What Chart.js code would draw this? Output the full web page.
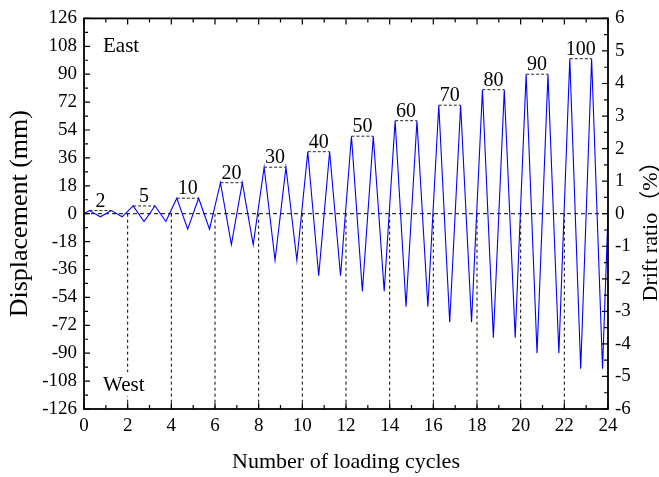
<!DOCTYPE html>
<html>
<head>
<meta charset="utf-8">
<script src="https://cdn.jsdelivr.net/npm/chart.js@4.4.0/dist/chart.umd.min.js"></script>
<style>
  html, body { margin: 0; padding: 0; background: #fff; }
</style>
</head>
<body>
<canvas id="graficoCarga" width="659" height="477"></canvas>
<script>
// Historia de carga (vertices de la curva)
const ciclos = [0,
  0.25, 0.75, 1.25, 1.75,   2.25, 2.75, 3.25, 3.75,   4.25, 4.75, 5.25, 5.75,
  6.25, 6.75, 7.25, 7.75,   8.25, 8.75, 9.25, 9.75,   10.25, 10.75, 11.25, 11.75,
  12.25, 12.75, 13.25, 13.75, 14.25, 14.75, 15.25, 15.75, 16.25, 16.75, 17.25, 17.75,
  18.25, 18.75, 19.25, 19.75, 20.25, 20.75, 21.25, 21.75, 22.25, 22.75, 23.25, 23.75,
  24];
const desplazamiento = [0,
  2, -2, 2, -2,       5, -5, 5, -5,       10, -10, 10, -10,
  20, -20, 20, -20,   30, -30, 30, -30,   40, -40, 40, -40,
  50, -50, 50, -50,   60, -60, 60, -60,   70, -70, 70, -70,
  80, -80, 80, -80,   90, -90, 90, -90,   100, -100, 100, -100,
  0];

// Niveles de amplitud (mm) y tramo donde se marca cada uno
const niveles = [2, 5, 10, 20, 30, 40, 50, 60, 70, 80, 90, 100];
const inicioPico = [0.25, 2.25, 4.25, 6.25, 8.25, 10.25, 12.25, 14.25, 16.25, 18.25, 20.25, 22.25];
const finPico = [1.25, 3.25, 5.25, 7.25, 9.25, 11.25, 13.25, 15.25, 17.25, 19.25, 21.25, 23.25];
const separadores = [2, 4, 6, 8, 10, 12, 14, 16, 18, 20, 22];

// Ticks
const ticksCiclos = [0, 2, 4, 6, 8, 10, 12, 14, 16, 18, 20, 22, 24];
const ticksMm = [-126, -108, -90, -72, -54, -36, -18, 0, 18, 36, 54, 72, 90, 108, 126];
const ticksDeriva = [-6, -5, -4, -3, -2, -1, 0, 1, 2, 3, 4, 5, 6];

const fuente = "'Liberation Serif', 'Times New Roman', serif";

const puntosCurva = ciclos.map((c, i) => ({x: c, y: desplazamiento[i]}));

const puntosPicos = [];
niveles.forEach((n, i) => {
  puntosPicos.push({x: inicioPico[i], y: n}, {x: finPico[i], y: n}, {x: finPico[i], y: null});
});

const puntosSeparadores = [];
separadores.forEach(s => {
  puntosSeparadores.push({x: s, y: 0}, {x: s, y: ticksMm[0]}, {x: s, y: null});
});

// Marco, ticks hacia adentro y textos
const marcoEjes = {
  id: 'marcoEjes',
  afterDatasetsDraw(chart) {
    const {ctx, scales: {x, y}} = chart;
    ctx.save();
    ctx.fillStyle = '#000';
    ctx.font = '20px ' + fuente;
    ctx.textAlign = 'center';
    ctx.textBaseline = 'alphabetic';
    niveles.forEach((n, i) => {
      const cx = x.getPixelForValue((inicioPico[i] + finPico[i]) / 2);
      ctx.fillText(String(n), cx, y.getPixelForValue(n) - 4);
    });

    ctx.textAlign = 'left';
    ctx.font = '21px ' + fuente;
    ctx.fillText('East', 103, 52);
    const w = ctx.measureText('West').width;
    ctx.fillStyle = '#fff';
    ctx.fillRect(101, 372, w + 4, 24);
    ctx.fillStyle = '#000';
    ctx.fillText('West', 103, 391);
    ctx.restore();
  },
  afterDraw(chart) {
    const {ctx, chartArea: a, scales: {x, y, y2}} = chart;
    ctx.save();
    ctx.strokeStyle = '#000';
    ctx.lineWidth = 1.2;
    ctx.beginPath();
    const marcas = (ticks, fn) => {
      ticks.forEach((v, i) => {
        fn(v, 6);
        if (i < ticks.length - 1) fn((v + ticks[i + 1]) / 2, 4);
      });
    };
    marcas(ticksCiclos, (v, l) => {
      const px = x.getPixelForValue(v);
      ctx.moveTo(px, a.bottom); ctx.lineTo(px, a.bottom - l);
      ctx.moveTo(px, a.top); ctx.lineTo(px, a.top + l);
    });
    marcas(ticksMm, (v, l) => {
      const py = y.getPixelForValue(v);
      ctx.moveTo(a.left, py); ctx.lineTo(a.left + l, py);
    });
    marcas(ticksDeriva, (v, l) => {
      const py = y2.getPixelForValue(v);
      ctx.moveTo(a.right, py); ctx.lineTo(a.right - l, py);
    });
    ctx.stroke();
    ctx.lineWidth = 1.8;
    ctx.strokeRect(a.left, a.top, a.right - a.left, a.bottom - a.top);

    // titulo eje derecho (leido de abajo hacia arriba)
    ctx.translate(651, 226);
    ctx.rotate(-Math.PI / 2);
    ctx.fillStyle = '#000';
    ctx.font = "22px 'Liberation Serif', 'Noto Sans CJK SC', serif";
    ctx.textAlign = 'center';
    ctx.textBaseline = 'middle';
    ctx.fillText('Drift ratio（%）', 0, 0);
    ctx.restore();
  }
};

const ctxCarga = document.getElementById('graficoCarga').getContext('2d');

new Chart(ctxCarga, {
  type: 'scatter',
  data: {
    datasets: [
      {
        label: 'Desplazamiento',
        data: puntosCurva,
        showLine: true,
        borderColor: '#0000ff',
        borderWidth: 1.1,
        pointRadius: 0,
        order: 0
      },
      {
        label: 'Picos',
        data: puntosPicos,
        showLine: true,
        borderColor: '#222',
        borderWidth: 1,
        borderDash: [3, 2],
        pointRadius: 0,
        order: 1
      },
      {
        label: 'Separadores',
        data: puntosSeparadores,
        showLine: true,
        borderColor: '#000',
        borderWidth: 1,
        borderDash: [3, 3],
        pointRadius: 0,
        order: 2
      },
      {
        label: 'Cero',
        data: [{x: ticksCiclos[0], y: 0}, {x: ticksCiclos[ticksCiclos.length - 1], y: 0}],
        showLine: true,
        borderColor: '#000',
        borderWidth: 1,
        borderDash: [4, 3],
        pointRadius: 0,
        order: 3
      }
    ]
  },
  options: {
    responsive: false,
    animation: false,
    layout: { padding: { top: 18, left: 0, right: 0, bottom: 0 } },
    plugins: {
      legend: { display: false },
      tooltip: { enabled: false }
    },
    scales: {
      x: {
        type: 'linear',
        min: 0,
        max: 24,
        afterBuildTicks: s => { s.ticks = ticksCiclos.map(v => ({value: v})); },
        afterFit: s => { s.height = 68; },
        grid: { display: false, drawTicks: false },
        border: { display: false },
        ticks: { color: '#000', font: { family: fuente, size: 19 }, padding: 6 },
        title: {
          display: true,
          text: 'Number of loading cycles',
          color: '#000',
          font: { family: fuente, size: 22, lineHeight: 1.2 },
          padding: { top: 0, bottom: 2 }
        }
      },
      y: {
        type: 'linear',
        position: 'left',
        min: -126,
        max: 126,
        afterBuildTicks: s => { s.ticks = ticksMm.map(v => ({value: v})); },
        afterFit: s => { s.width = 84; },
        grid: { display: false, drawTicks: false },
        border: { display: false },
        ticks: { color: '#000', font: { family: fuente, size: 19 }, padding: 7 },
        title: {
          display: true,
          text: 'Displacement (mm)',
          color: '#000',
          font: { family: fuente, size: 26, lineHeight: 1.2 },
          padding: { top: 5, bottom: 0 }
        }
      },
      y2: {
        type: 'linear',
        position: 'right',
        min: -6,
        max: 6,
        afterBuildTicks: s => { s.ticks = ticksDeriva.map(v => ({value: v})); },
        afterFit: s => { s.width = 51; },
        grid: { display: false, drawTicks: false },
        border: { display: false },
        ticks: { color: '#000', font: { family: fuente, size: 19 }, padding: 7 }
      }
    }
  },
  plugins: [marcoEjes]
});
</script>
</body>
</html>
